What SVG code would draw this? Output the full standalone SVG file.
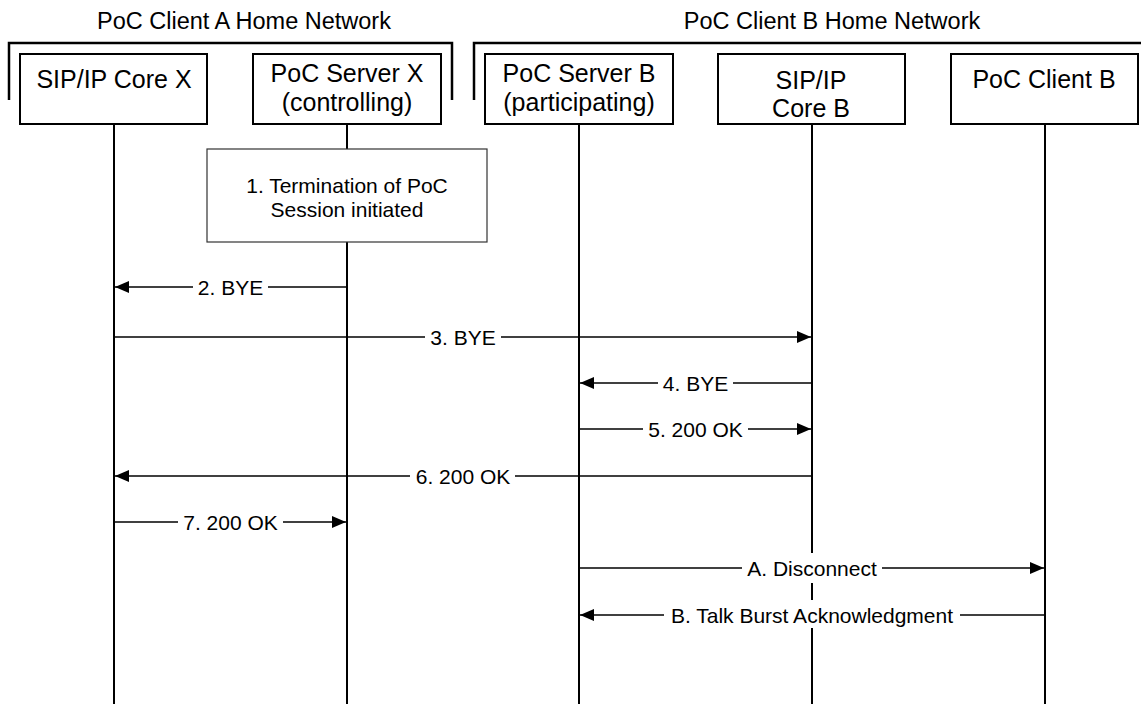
<svg xmlns="http://www.w3.org/2000/svg" width="1141" height="704" viewBox="0 0 1141 704">
<defs>
<style>
text{font-family:"Liberation Sans",Arial,sans-serif;fill:#000}
.title{font-size:23.5px;text-anchor:middle}
.box{fill:#fff;stroke:#000;stroke-width:2}
.bt{font-size:25px;text-anchor:middle}
.life{stroke:#000;stroke-width:2;fill:none}
.brk{stroke:#000;stroke-width:2.5;fill:none}
.msg{stroke:#000;stroke-width:1.4;fill:none;marker-end:url(#ah)}
.lbg{fill:#fff;stroke:none}
.lt{font-size:21px;text-anchor:middle}
.note{fill:#fff;stroke:#333;stroke-width:1.2}
</style>
<marker id="ah" markerUnits="userSpaceOnUse" markerWidth="15" markerHeight="12" refX="14" refY="6" orient="auto">
<path d="M0,0 L14,6 L0,12 Z" fill="#000"/>
</marker>
</defs>
<rect width="1141" height="704" fill="#fff"/>

<g id="networks">
<text class="title" x="244" y="29">PoC Client A Home Network</text>
<polyline class="brk" points="9,100 9,43 452,43 452,100"/>
<text class="title" x="832" y="29">PoC Client B Home Network</text>
<polyline class="brk" points="474,100 474,43 1141,43"/>
</g>

<g id="lifelines">
<line class="life" x1="114" y1="124" x2="114" y2="704"/>
<line class="life" x1="347" y1="124" x2="347" y2="704"/>
<line class="life" x1="579" y1="124" x2="579" y2="704"/>
<line class="life" x1="812" y1="124" x2="812" y2="704"/>
<line class="life" x1="1045" y1="124" x2="1045" y2="704"/>
</g>

<g id="sip-core-x">
<rect class="box" x="20" y="54" width="187" height="70"/>
<text class="bt" x="114" y="88">SIP/IP Core X</text>
</g>
<g id="poc-server-x">
<rect class="box" x="253" y="54" width="188" height="70"/>
<text class="bt" x="347" y="82">PoC Server X</text>
<text class="bt" x="347" y="111">(controlling)</text>
</g>
<g id="poc-server-b">
<rect class="box" x="485" y="54" width="188" height="70"/>
<text class="bt" x="579" y="82">PoC Server B</text>
<text class="bt" x="579" y="111">(participating)</text>
</g>
<g id="sip-core-b">
<rect class="box" x="718" y="54" width="187" height="70"/>
<text class="bt" x="811" y="89">SIP/IP</text>
<text class="bt" x="811" y="117">Core B</text>
</g>
<g id="poc-client-b">
<rect class="box" x="951" y="54" width="187" height="70"/>
<text class="bt" x="1044" y="88">PoC Client B</text>
</g>

<g id="step1">
<rect class="note" x="207" y="149" width="280" height="93"/>
<text class="lt" x="347" y="193">1. Termination of PoC</text>
<text class="lt" x="347" y="217">Session initiated</text>
</g>

<g id="connectors">
<line class="msg" x1="347" y1="287" x2="115" y2="287"/>
<rect class="lbg" x="193" y="273" width="75" height="28"/>
<text class="lt" x="230.5" y="294.5">2. BYE</text>

<line class="msg" x1="114" y1="337" x2="811" y2="337"/>
<rect class="lbg" x="425" y="323" width="76" height="28"/>
<text class="lt" x="463" y="344.5">3. BYE</text>

<line class="msg" x1="812" y1="383" x2="580" y2="383"/>
<rect class="lbg" x="658" y="369" width="75" height="28"/>
<text class="lt" x="695.5" y="390.5">4. BYE</text>

<line class="msg" x1="579" y1="429" x2="811" y2="429"/>
<rect class="lbg" x="643" y="415" width="105" height="28"/>
<text class="lt" x="695.5" y="436.5">5. 200 OK</text>

<line class="msg" x1="812" y1="476" x2="115" y2="476"/>
<rect class="lbg" x="410" y="462" width="105" height="28"/>
<text class="lt" x="463" y="483.5">6. 200 OK</text>

<line class="msg" x1="114" y1="522" x2="346" y2="522"/>
<rect class="lbg" x="178" y="508" width="105" height="28"/>
<text class="lt" x="230.5" y="529.5">7. 200 OK</text>

<line class="msg" x1="579" y1="568" x2="1044" y2="568"/>
<rect class="lbg" x="742" y="553" width="140" height="30"/>
<text class="lt" x="812" y="575.5">A. Disconnect</text>

<line class="msg" x1="1045" y1="615" x2="580" y2="615"/>
<rect class="lbg" x="664" y="600" width="296" height="28"/>
<text class="lt" x="812" y="622.5">B. Talk Burst Acknowledgment</text>
</g>
</svg>
